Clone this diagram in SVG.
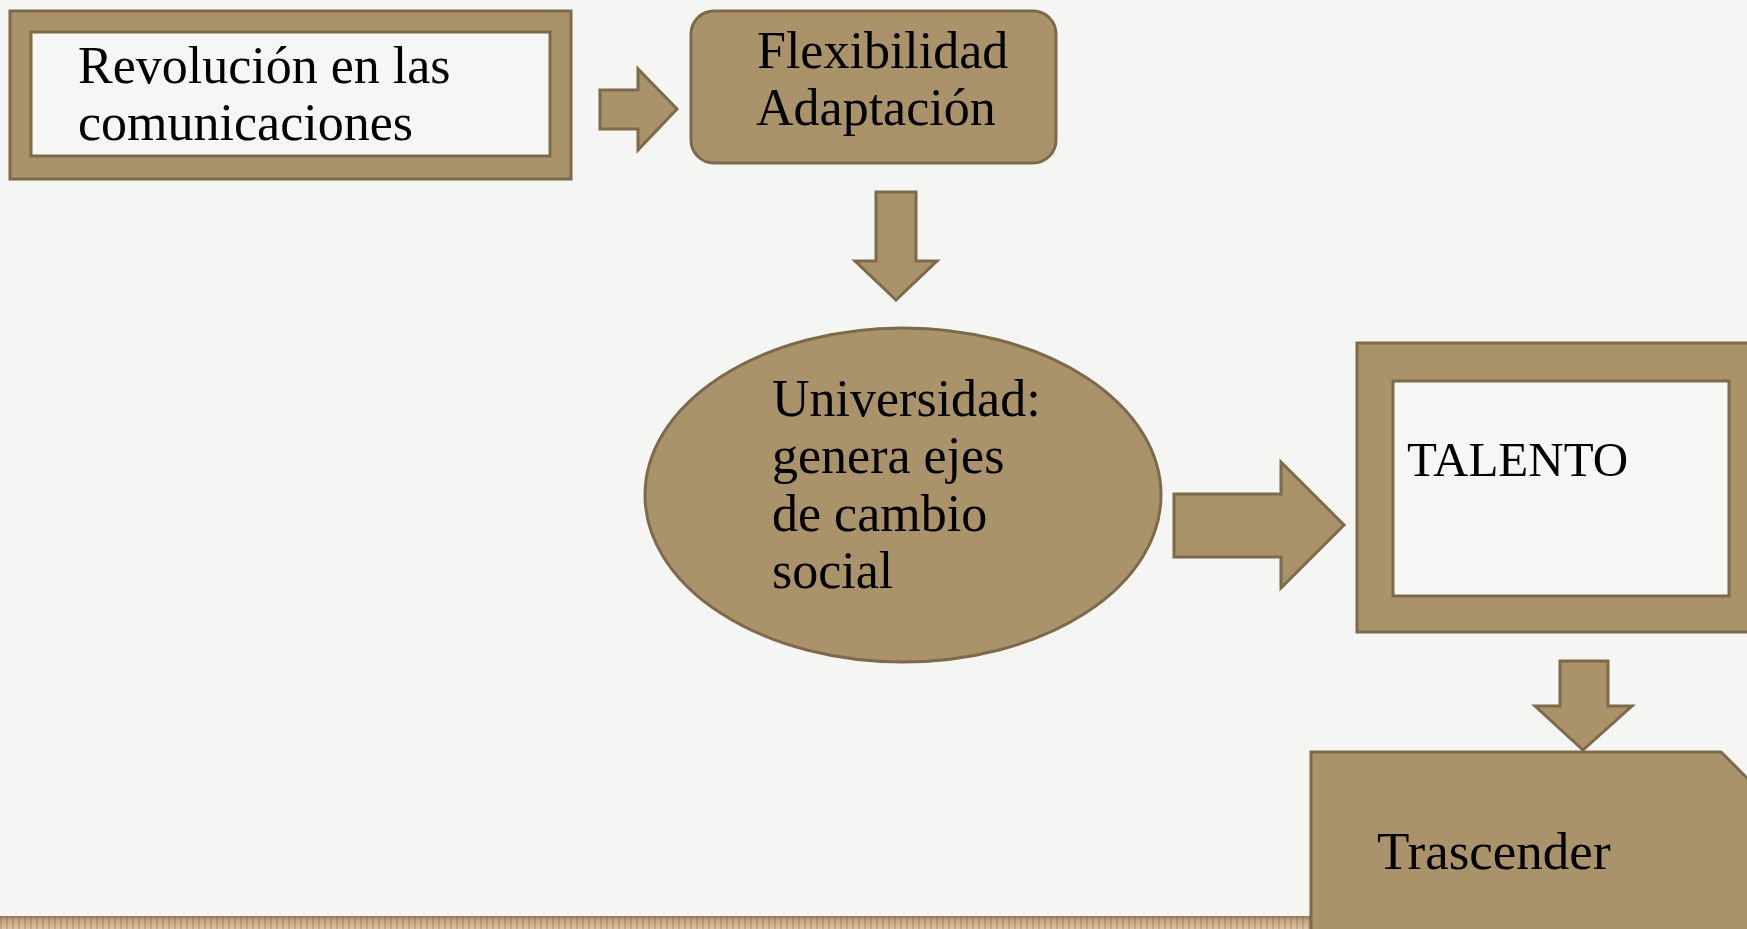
<svg xmlns="http://www.w3.org/2000/svg" width="1747" height="929" viewBox="0 0 1747 929">
<style>
.shape{fill:#AA926A;stroke:#7D6A4B;stroke-width:3;stroke-linejoin:miter}
.hole{fill:#F6F6F4;stroke:#7D6A4B;stroke-width:3}
.t{font-family:"Liberation Serif","Times New Roman",serif;font-size:52px;fill:#000}
</style>
<defs>
<linearGradient id="wood" x1="0" y1="0" x2="0" y2="1">
<stop offset="0" stop-color="#93745A"/>
<stop offset="0.3" stop-color="#C2A282"/>
<stop offset="1" stop-color="#DCC2A2"/>
</linearGradient>
<pattern id="stripes" width="6" height="20" patternUnits="userSpaceOnUse">
<rect x="0" width="2" height="20" fill="#7A5C40" opacity="0.25"/>
</pattern>
</defs>
<rect width="1747" height="929" fill="#F5F5F3"/>
<rect x="0" y="916" width="1747" height="13" fill="url(#wood)"/>
<rect x="0" y="916" width="1747" height="13" fill="url(#stripes)"/>

<g id="connectors">
<polygon class="shape" points="600,90 638,90 638,69 677,109 638,150 638,129 600,129"/>
<polygon class="shape" points="876,192 916,192 916,261 937,261 896,300 855,261 876,261"/>
<polygon class="shape" points="1174,494 1281,494 1281,462 1344,525 1281,588 1281,557 1174,557"/>
<polygon class="shape" points="1560,661 1608,661 1608,706 1632,706 1583,750 1535,706 1560,706"/>
</g>

<g id="node-revolucion">
<rect class="shape" x="10" y="11" width="561" height="168"/>
<rect class="hole" x="31" y="32" width="519" height="124"/>
<text class="t" x="78" y="83">Revolución en las</text>
<text class="t" x="78" y="140">comunicaciones</text>
</g>

<g id="node-flexibilidad">
<rect class="shape" x="691" y="11" width="365" height="152" rx="23" ry="23"/>
<text class="t" x="757" y="68">Flexibilidad</text>
<text class="t" x="756" y="125">Adaptación</text>
</g>

<g id="node-universidad">
<ellipse class="shape" cx="903" cy="495" rx="258" ry="167"/>
<text class="t" x="772" y="416">Universidad:</text>
<text class="t" x="772" y="473">genera ejes</text>
<text class="t" x="772" y="531">de cambio</text>
<text class="t" x="772" y="588">social</text>
</g>

<g id="node-talento">
<rect class="shape" x="1357" y="343" width="400" height="289"/>
<rect class="hole" x="1393" y="381" width="336" height="215"/>
<text class="t" x="1407" y="476" style="font-size:49px">TALENTO</text>
</g>

<g id="node-trascender">
<polygon class="shape" points="1311,752 1721,752 1752,783 1752,935 1311,935"/>
<text class="t" x="1377" y="869" style="font-size:53px">Trascender</text>
</g>
</svg>
